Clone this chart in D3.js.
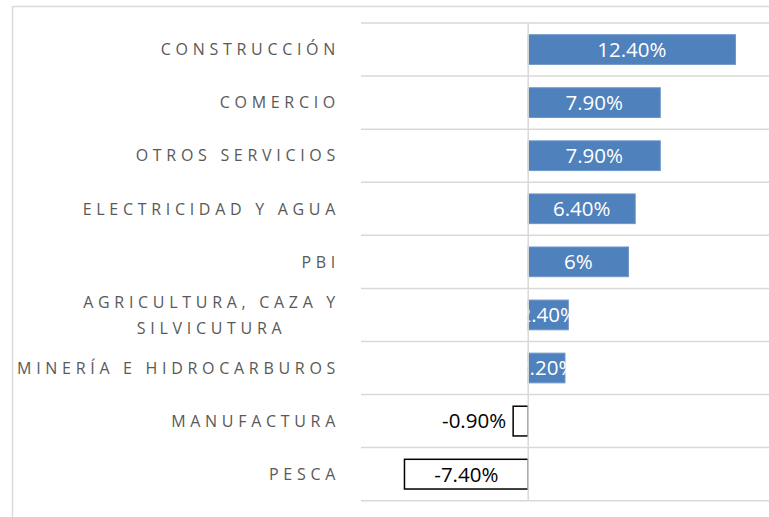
<!DOCTYPE html>
<html>
<head>
<meta charset="utf-8">
<script src="https://cdn.jsdelivr.net/npm/d3@7"></script>
<style>
  body { margin: 0; background: #fff; }
</style>
</head>
<body>
<div class="chart"></div>
<script>
// ======================================
// data
// ======================================
var sectores = [
   'CONSTRUCCIÓN',
   'COMERCIO',
   'OTROS SERVICIOS',
   'ELECTRICIDAD Y AGUA',
   'PBI',
   'AGRICULTURA, CAZA Y\nSILVICUTURA',
   'MINERÍA E HIDROCARBUROS',
   'MANUFACTURA',
   'PESCA'
];
var variacion = [12.4, 7.9, 7.9, 6.4, 6, 2.4, 2.2, -0.9, -7.4];
var etiquetas = ['12.40%', '7.90%', '7.90%', '6.40%', '6%', '2.40%', '2.20%', '-0.90%', '-7.40%'];

// ======================================
// svg size and plot area
// ======================================
var chart = {
   width: 769,
   height: 517,
   left: 361,
   right: 779,
   top: 23,
   bottom: 500.7
};

var svg = d3.select('.chart')
   .append('svg')
   .attr('width', chart.width)
   .attr('height', chart.height)
   ;

// outer chart border (cut by the window on the right and bottom)
svg.append('path')
   .attr('d', 'M12.5,' + chart.height + 'V6.5H' + chart.width)
   .attr('fill', 'none')
   .attr('stroke', '#d9d9d9')
   .attr('stroke-width', 1.5)
   ;

var x = d3.scaleLinear()
   .domain([-10, 15])
   .range([chart.left, chart.right])
   ;

var y = d3.scaleBand()
   .domain(sectores)
   .range([chart.top, chart.bottom])
   .paddingInner(0.44)
   .paddingOuter(0.22)
   ;

// ======================================
// horizontal gridlines between categories
// ======================================
var bordes = sectores.map(function(d){ return y(d) - y.step() * y.paddingInner() / 2; });
bordes.push(chart.bottom);

svg.selectAll('line.grid')
   .data(bordes)
   .enter()
   .append('line')
      .attr('class', 'grid')
      .attr('x1', chart.left)
      .attr('x2', chart.width)
      .attr('y1', function(d){ return d; })
      .attr('y2', function(d){ return d; })
      .attr('stroke', '#d9d9d9')
      .attr('stroke-width', 1.5)
      ;

// ======================================
// bars
// ======================================
svg.selectAll('rect.bar')
   .data(variacion)
   .enter()
   .append('rect')
      .attr('class', 'bar')
      .attr('x', function(d){ return x(Math.min(0, d)); })
      .attr('y', function(d, i){ return y(sectores[i]); })
      .attr('width', function(d){ return Math.abs(x(d) - x(0)); })
      .attr('height', y.bandwidth())
      .attr('fill', function(d){ return d < 0 ? '#fff' : '#4f81bd'; })
      .attr('stroke', function(d){ return d < 0 ? '#000' : '#6f97c9'; })
      .attr('stroke-width', function(d){ return d < 0 ? 1.5 : 1; })
      ;

// ======================================
// value labels
// ======================================
svg.selectAll('text.valor')
   .data(variacion)
   .enter()
   .append('text')
      .attr('class', 'valor')
      .text(function(d, i){ return etiquetas[i]; })
      .attr('x', function(d){
         // small negative bar: label sits outside, to the left
         if (d < 0 && Math.abs(x(d) - x(0)) < 40) return x(d) - 7;
         return (x(d) + x(0)) / 2;
      })
      .attr('y', function(d, i){ return y(sectores[i]) + y.bandwidth() / 2; })
      .attr('dy', '0.36em')
      .attr('text-anchor', function(d){
         return (d < 0 && Math.abs(x(d) - x(0)) < 40) ? 'end' : 'middle';
      })
      .attr('font-family', 'Open Sans, sans-serif')
      .attr('font-size', '20.5px')
      .attr('fill', function(d){ return d < 0 ? '#000' : '#fff'; })
      ;

// zero axis line, on top of the labels
svg.append('line')
   .attr('x1', x(0))
   .attr('x2', x(0))
   .attr('y1', chart.top)
   .attr('y2', chart.bottom)
   .attr('stroke', '#d9d9d9')
   .attr('stroke-width', 1.5)
   ;

// ======================================
// category labels
// ======================================
var etiquetaX = 340;
svg.selectAll('text.sector')
   .data(sectores)
   .enter()
   .append('text')
      .attr('class', 'sector')
      .attr('font-family', 'Open Sans, sans-serif')
      .attr('font-size', '16px')
      .attr('letter-spacing', '4.7px')
      .attr('fill', '#595959')
      .each(function(d){
         var t = d3.select(this);
         var lineas = d.split('\n');
         var cy = y(d) + y.bandwidth() / 2;
         if (lineas.length === 1) {
            t.attr('x', etiquetaX)
               .attr('y', cy)
               .attr('dy', '0.36em')
               .attr('text-anchor', 'end')
               .text(d);
         } else {
            t.attr('text-anchor', 'middle');
            var spans = t.selectAll('tspan')
               .data(lineas)
               .enter()
               .append('tspan')
                  .attr('y', function(l, j){ return cy + (j - (lineas.length - 1) / 2) * 26; })
                  .attr('dy', '0.36em')
                  .text(function(l){ return l; })
                  ;
            var ancho = d3.max(spans.nodes(), function(n){ return n.getComputedTextLength(); });
            spans.attr('x', etiquetaX - ancho / 2);
         }
      })
      ;
</script>
</body>
</html>
